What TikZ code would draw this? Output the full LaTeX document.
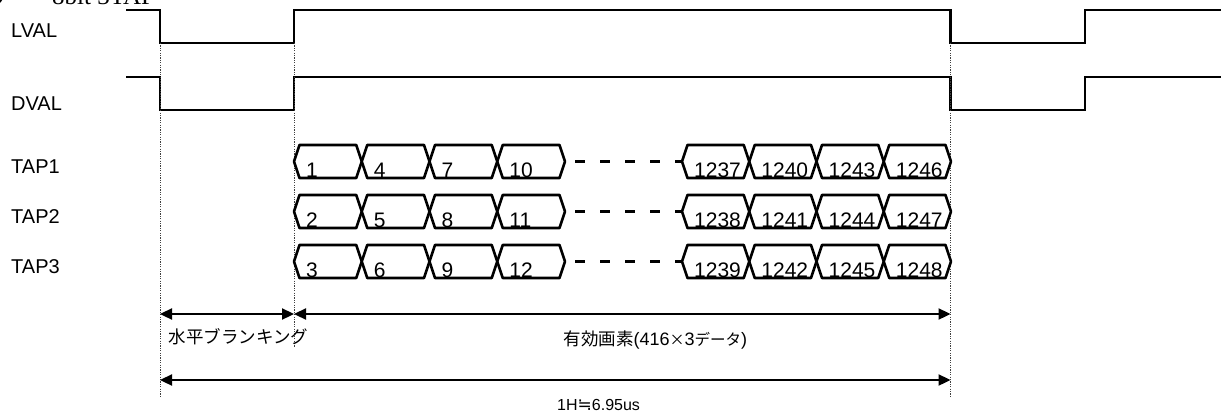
\documentclass[tikz,border=0pt]{standalone}
\usepackage{fontspec}
\setmainfont{Liberation Sans}
\newfontfamily\cjk{Noto Sans CJK JP}
\newfontfamily\symfont{DejaVu Sans}
\newfontfamily\headserif{Liberation Serif}
\usetikzlibrary{arrows.meta}
\tikzset{
  sig/.style={line width=2.8pt, line join=miter, line cap=butt},
  bus/.style={line width=2.6pt, line join=round},
  guide/.style={line width=0.9pt, black!75, dash pattern=on 1.2pt off 1.2pt},
  dimarrow/.style={line width=2.3pt, {Triangle[length=12pt,width=11pt]}-{Triangle[length=12pt,width=11pt]}},
  siglabel/.style={anchor=base west, inner sep=0pt, font=\fontsize{20pt}{24pt}\selectfont},
  num/.style={anchor=base west, inner sep=0pt, font=\fontsize{21pt}{25pt}\selectfont},
  jlabel/.style={anchor=base west, inner sep=0pt, font=\fontsize{18pt}{22pt}\selectfont},
  gapline/.style={line width=2.6pt, dash pattern=on 10pt off 15pt, dash phase=15pt},
}
% #1 left tip x, #2 right tip x, #3 top y, #4 label
\newcommand\bcell[4]{%
  \draw[bus] (#1,#3+16.5) -- (#1+5.5,#3) -- (#2-5.5,#3) -- (#2,#3+16.5) -- (#2-5.5,#3+33) -- (#1+5.5,#3+33) -- cycle;
  \node[num] (c#4) at (#1+12,#3+32) {#4};
}
\begin{document}
\begin{tikzpicture}[x=1pt,y=-1pt]
\useasboundingbox (0,0) rectangle (1224,415);
\clip (0,0) rectangle (1224,415);

% heading (cut off at the top, as in the reference)
\node[circle, fill=black, minimum size=12pt, inner sep=0pt] (bullet) at (-3.5,-2) {};
\node[anchor=base west, inner sep=0pt, font=\headserif\fontsize{25pt}{30pt}\selectfont] (head) at (52,4.5) {8bit 3TAP};

% signal labels
\node[siglabel] (lval) at (11,37) {LVAL};
\node[siglabel] (dval) at (11,110) {DVAL};
\node[siglabel] (tap1) at (11,173) {TAP1};
\node[siglabel] (tap2) at (11,223) {TAP2};
\node[siglabel] (tap3) at (11,273) {TAP3};

% LVAL / DVAL traces
\draw[sig] (126,10) -- (160,10) -- (160,43) -- (294,43) -- (294,10) -- (950.5,10) -- (950.5,43) -- (1085,43) -- (1085,10) -- (1221,10);
\draw[sig] (126,77) -- (160,77) -- (160,110) -- (294,110) -- (294,77) -- (950.5,77) -- (950.5,110) -- (1085,110) -- (1085,77) -- (1221,77);

% guide coordinates
\coordinate (g1t) at (160,43);
\coordinate (g1b) at (160,397);
\coordinate (g2t) at (294,43);
\coordinate (g2b) at (294,347);
\coordinate (g3t) at (950.5,43);
\coordinate (g3b) at (950.5,397);
\draw[guide] (g1t) -- (g1b);
\draw[guide] (g2t) -- (g2b);
\draw[guide] (g3t) -- (g3b);

% bus rows
\bcell{294}{361.75}{145}{1}
\bcell{361.75}{429.5}{145}{4}
\bcell{429.5}{497.25}{145}{7}
\bcell{497.25}{565}{145}{10}
\bcell{682}{749.25}{145}{1237}
\bcell{749.25}{816.5}{145}{1240}
\bcell{816.5}{883.75}{145}{1243}
\bcell{883.75}{951}{145}{1246}

\bcell{294}{361.75}{195}{2}
\bcell{361.75}{429.5}{195}{5}
\bcell{429.5}{497.25}{195}{8}
\bcell{497.25}{565}{195}{11}
\bcell{682}{749.25}{195}{1238}
\bcell{749.25}{816.5}{195}{1241}
\bcell{816.5}{883.75}{195}{1244}
\bcell{883.75}{951}{195}{1247}

\bcell{294}{361.75}{245}{3}
\bcell{361.75}{429.5}{245}{6}
\bcell{429.5}{497.25}{245}{9}
\bcell{497.25}{565}{245}{12}
\bcell{682}{749.25}{245}{1239}
\bcell{749.25}{816.5}{245}{1242}
\bcell{816.5}{883.75}{245}{1245}
\bcell{883.75}{951}{245}{1248}

% gaps between the two groups
\coordinate (e1) at (565,161.5);  \coordinate (s1) at (682,161.5);
\coordinate (e2) at (565,211.5);  \coordinate (s2) at (682,211.5);
\coordinate (e3) at (565,261.5);  \coordinate (s3) at (682,261.5);
\draw[gapline] (e1) -- (s1);
\draw[gapline] (e2) -- (s2);
\draw[gapline] (e3) -- (s3);

% dimension arrows
\coordinate (a1) at (160,314);
\coordinate (a2) at (294,314);
\coordinate (a3) at (950.5,314);
\coordinate (h1) at (160,380);
\coordinate (h2) at (950.5,380);
\draw[dimarrow] (a1) -- (a2);
\draw[dimarrow] (a2) -- (a3);
\draw[dimarrow] (h1) -- (h2);

\node[jlabel] (blank) at (168.5,343.5) {\cjk\fontsize{17.5pt}{21pt}\selectfont 水平ブランキング};
\node[jlabel] (valid) at (563.5,345) {{\cjk\fontsize{17.5pt}{21pt}\selectfont 有効画素}(416{\cjk\fontsize{15pt}{21pt}\selectfont ×}3{\cjk\fontsize{15.5pt}{21pt}\selectfont データ})};
\node[anchor=base west, inner sep=0pt, font=\fontsize{16pt}{20pt}\selectfont] (oneh) at (557,410) {1H{\symfont\fontsize{17pt}{20pt}\selectfont ≒}6.95us};
\end{tikzpicture}
\end{document}
